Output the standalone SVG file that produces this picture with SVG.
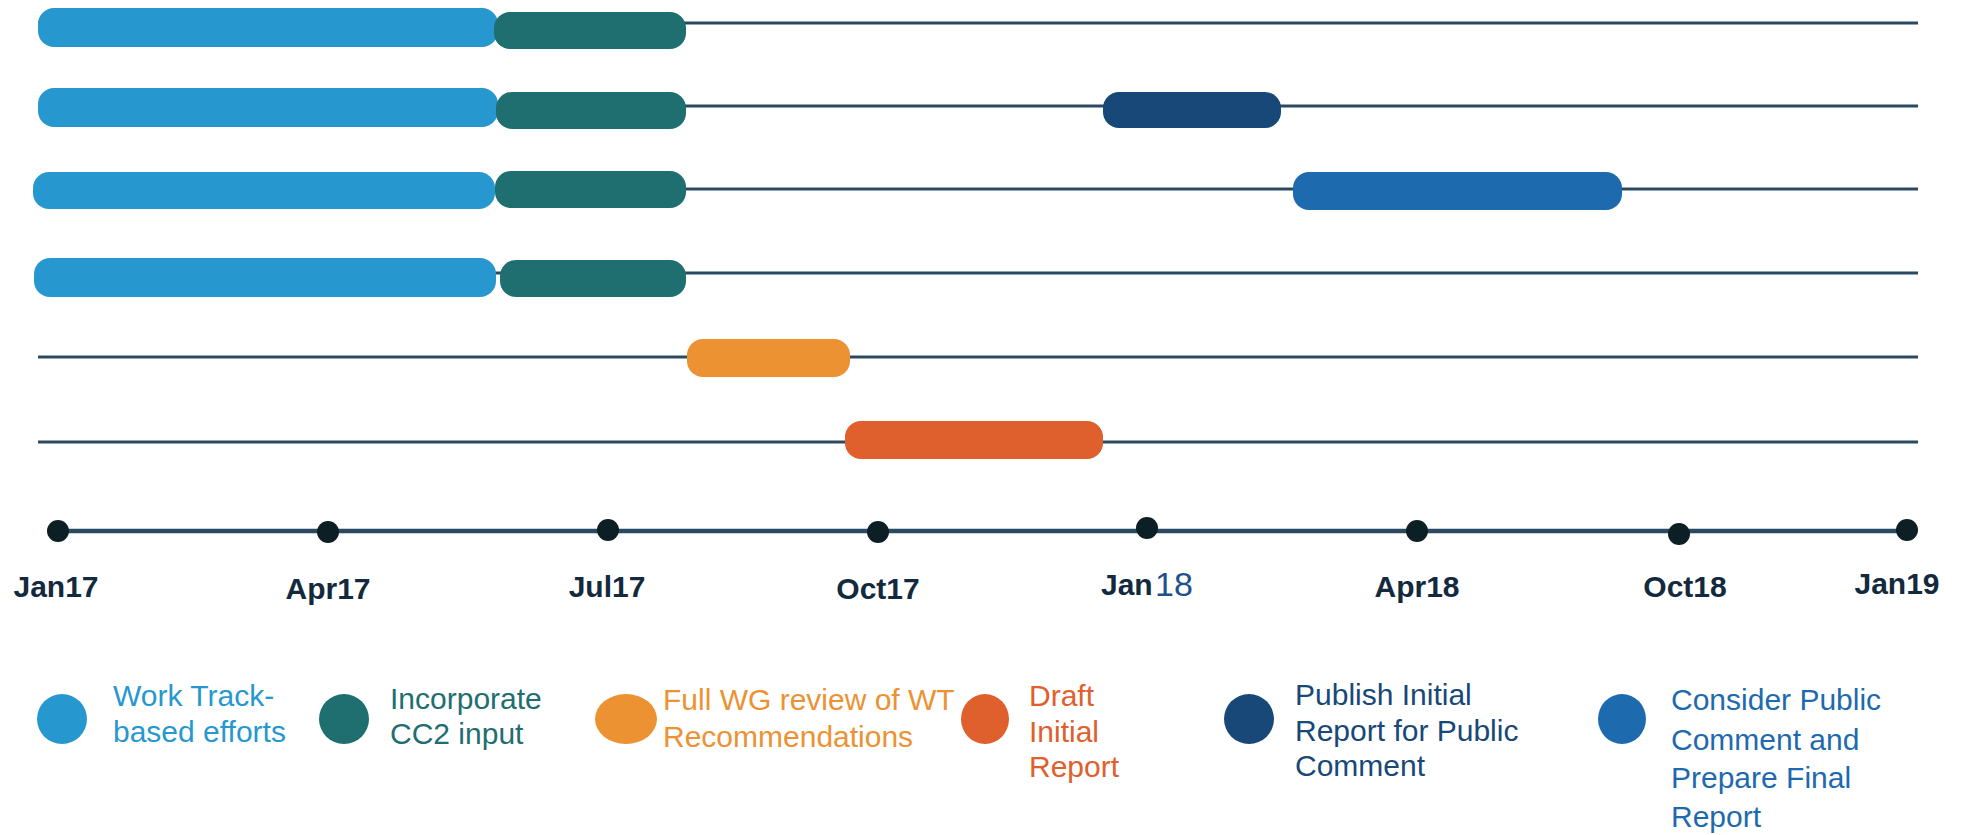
<svg xmlns="http://www.w3.org/2000/svg" width="1962" height="835" viewBox="0 0 1962 835">
<style>
.row{stroke:#2b4a62;stroke-width:3;fill:none}
.axis{stroke:#2b4a62;stroke-width:4.5;fill:none}
.dot{fill:#0c1f24}
.wt{fill:#2798cf}
.cc{fill:#1f6e70}
.fr{fill:#ec9233}
.dr{fill:#df602c}
.pub{fill:#174878}
.con{fill:#1e6aae}
.tick{font-family:"Liberation Sans",Arial,sans-serif;font-weight:bold;font-size:30px;fill:#13293d;text-anchor:middle}
.leg{font-family:"Liberation Sans",Arial,sans-serif;font-size:30px}
</style>
<rect width="1962" height="835" fill="#ffffff"/>
<g id="connectors">
<line class="row" x1="38" y1="23" x2="1918" y2="23"/>
<line class="row" x1="38" y1="106" x2="1918" y2="106"/>
<line class="row" x1="38" y1="189" x2="1918" y2="189"/>
<line class="row" x1="38" y1="273" x2="1918" y2="273"/>
<line class="row" x1="38" y1="357" x2="1918" y2="357"/>
<line class="row" x1="38" y1="442" x2="1918" y2="442"/>
<line class="axis" x1="58" y1="531" x2="1907" y2="531"/>
</g>
<g id="row1">
<rect class="wt" x="38" y="8" width="460" height="39" rx="16"/>
<rect class="cc" x="494" y="12" width="192" height="37" rx="16"/>
</g>
<g id="row2">
<rect class="wt" x="38" y="88" width="460" height="39" rx="16"/>
<rect class="cc" x="496" y="92" width="190" height="37" rx="16"/>
<rect class="pub" x="1103" y="92" width="178" height="36" rx="16"/>
</g>
<g id="row3">
<rect class="wt" x="33" y="172" width="462" height="37" rx="16"/>
<rect class="cc" x="495" y="171" width="191" height="37" rx="16"/>
<rect class="con" x="1293" y="172" width="329" height="38" rx="16"/>
</g>
<g id="row4">
<rect class="wt" x="34" y="258" width="462" height="39" rx="16"/>
<rect class="cc" x="500" y="260" width="186" height="37" rx="16"/>
</g>
<g id="row5">
<rect class="fr" x="687" y="339" width="163" height="38" rx="16"/>
</g>
<g id="row6">
<rect class="dr" x="845" y="421" width="258" height="38" rx="16"/>
</g>
<g id="axis-ticks">
<circle class="dot" cx="58" cy="531" r="11"/>
<circle class="dot" cx="328" cy="532" r="11"/>
<circle class="dot" cx="608" cy="530" r="11"/>
<circle class="dot" cx="878" cy="532" r="11"/>
<circle class="dot" cx="1147" cy="528" r="11"/>
<circle class="dot" cx="1417" cy="531" r="11"/>
<circle class="dot" cx="1679" cy="534" r="11"/>
<circle class="dot" cx="1907" cy="530" r="11"/>
<text class="tick" x="56" y="597">Jan17</text>
<text class="tick" x="328" y="599">Apr17</text>
<text class="tick" x="607" y="597">Jul17</text>
<text class="tick" x="878" y="599">Oct17</text>
<text class="tick" x="1101" y="595" style="text-anchor:start">Jan</text>
<text x="1155" y="596" style="font-family:'Liberation Sans',Arial,sans-serif;font-size:34px;fill:#22508c">18</text>
<text class="tick" x="1417" y="597">Apr18</text>
<text class="tick" x="1685" y="597">Oct18</text>
<text class="tick" x="1897" y="594">Jan19</text>
</g>
<g id="legend-wt">
<ellipse class="wt" cx="62" cy="719" rx="25" ry="25"/>
<text class="leg" fill="#2798cf"><tspan x="113" y="706">Work Track-</tspan><tspan x="113" y="742">based efforts</tspan></text>
</g>
<g id="legend-cc">
<ellipse class="cc" cx="344" cy="719" rx="25" ry="25"/>
<text class="leg" fill="#1f6e70"><tspan x="390" y="709">Incorporate</tspan><tspan x="390" y="744">CC2 input</tspan></text>
</g>
<g id="legend-fr">
<ellipse class="fr" cx="626" cy="719" rx="31" ry="25"/>
<text class="leg" fill="#ec9233"><tspan x="663" y="710">Full WG review of WT</tspan><tspan x="663" y="747">Recommendations</tspan></text>
</g>
<g id="legend-dr">
<ellipse class="dr" cx="985" cy="719" rx="24" ry="25"/>
<text class="leg" fill="#df602c"><tspan x="1029" y="706">Draft</tspan><tspan x="1029" y="742">Initial</tspan><tspan x="1029" y="777">Report</tspan></text>
</g>
<g id="legend-pub">
<ellipse class="pub" cx="1249" cy="719" rx="25" ry="25"/>
<text class="leg" fill="#174878"><tspan x="1295" y="705">Publish Initial</tspan><tspan x="1295" y="741">Report for Public</tspan><tspan x="1295" y="776">Comment</tspan></text>
</g>
<g id="legend-con">
<ellipse class="con" cx="1622" cy="719" rx="24" ry="25"/>
<text class="leg" fill="#1e6aae"><tspan x="1671" y="710">Consider Public</tspan><tspan x="1671" y="750">Comment and</tspan><tspan x="1671" y="788">Prepare Final</tspan><tspan x="1671" y="827">Report</tspan></text>
</g>
</svg>
